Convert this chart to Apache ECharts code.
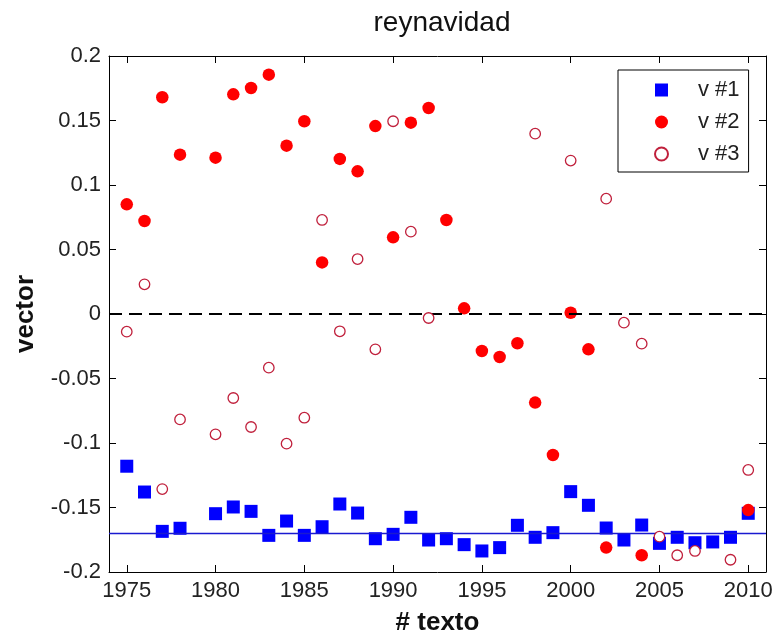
<!DOCTYPE html>
<html>
<head>
<meta charset="utf-8">
<script src="https://cdn.jsdelivr.net/npm/echarts@6/dist/echarts.min.js"></script>
<style>
html,body{margin:0;padding:0;background:#fff;}
#chart{width:775px;height:634px;}
</style>
</head>
<body>
<div id="chart"></div>
<script>
// ---- data ----
var titleText = 'reynavidad';
var xLabelText = '# texto';
var yLabelText = 'vector';
var seriesNames = ['v #1', 'v #2', 'v #3'];

var xTicks = [1975, 1980, 1985, 1990, 1995, 2000, 2005, 2010];
var yTicks = [-0.2, -0.15, -0.1, -0.05, 0, 0.05, 0.1, 0.15, 0.2];

var years1 = [1975, 1976, 1977, 1978, 1980, 1981, 1982, 1983, 1984, 1985, 1986, 1987, 1988, 1989, 1990, 1991, 1992, 1993, 1994, 1995, 1996, 1997, 1998, 1999, 2000, 2001, 2002, 2003, 2004, 2005, 2006, 2007, 2008, 2009, 2010];
var values1 = [-0.118, -0.138, -0.1685, -0.1661, -0.1548, -0.1496, -0.153, -0.1716, -0.1605, -0.1716, -0.1649, -0.1473, -0.1543, -0.1742, -0.1708, -0.1576, -0.1752, -0.1742, -0.1788, -0.1837, -0.1811, -0.1638, -0.1731, -0.1695, -0.1377, -0.1483, -0.1659, -0.1752, -0.1636, -0.1778, -0.1731, -0.1773, -0.1767, -0.1731, -0.1545];

var years2 = [1975, 1976, 1977, 1978, 1980, 1981, 1982, 1983, 1984, 1985, 1986, 1987, 1988, 1989, 1990, 1991, 1992, 1993, 1994, 1995, 1996, 1997, 1998, 1999, 2000, 2001, 2002, 2004, 2010];
var values2 = [0.085, 0.0721, 0.168, 0.1235, 0.1212, 0.1703, 0.1752, 0.1855, 0.1305, 0.1494, 0.040, 0.1202, 0.1106, 0.1457, 0.0594, 0.1483, 0.1597, 0.0729, 0.0044, -0.0287, -0.0333, -0.0227, -0.0687, -0.1093, 0.001, -0.0274, -0.1811, -0.187, -0.152];

var years3 = [1975, 1976, 1977, 1978, 1980, 1981, 1982, 1983, 1984, 1985, 1986, 1987, 1988, 1989, 1990, 1991, 1992, 1998, 2000, 2002, 2003, 2004, 2005, 2006, 2007, 2009, 2010];
var values3 = [-0.0137, 0.023, -0.1357, -0.0817, -0.0933, -0.0651, -0.0876, -0.0416, -0.1005, -0.0804, 0.0729, -0.0134, 0.0426, -0.0274, 0.1494, 0.0638, -0.0031, 0.1398, 0.1189, 0.0894, -0.0067, -0.023, -0.1726, -0.187, -0.1837, -0.1905, -0.1209];

var meanLine1 = -0.1667;
var zeroLine = 0;
var xMin = 1974, xMax = 2011;
var yMin = -0.2, yMax = 0.2, yStep = 0.05;

function zip(xs, ys) { return xs.map(function (x, i) { return [x, ys[i]]; }); }

var FONT = '"Liberation Sans", Arial, Helvetica, sans-serif';
var TXT = '#222';
var SQUARE = 'path://M0,0L10,0L10,10L0,10Z';

var chart = echarts.init(document.getElementById('chart'), null, {renderer: 'canvas'});

function xAxisDef(pos, showLabels) {
  return {
    type: 'value', position: pos, min: xMin, max: xMax,
    axisLine: {show: true, onZero: false, lineStyle: {color: '#000', width: 1}},
    axisTick: {show: true, inside: true, length: 7, customValues: xTicks, lineStyle: {color: '#000', width: 1}},
    axisLabel: {show: showLabels, customValues: xTicks, margin: 8, fontFamily: FONT, fontSize: 22, color: TXT,
      formatter: function (v) { return String(v); }},
    splitLine: {show: false},
    name: showLabels ? xLabelText : '',
    nameLocation: 'middle', nameGap: 38,
    nameTextStyle: {fontFamily: FONT, fontSize: 26, fontWeight: 'bold', color: '#111'}
  };
}
function yAxisDef(pos, showLabels) {
  return {
    type: 'value', position: pos, min: yMin, max: yMax, interval: yStep,
    axisLine: {show: true, onZero: false, lineStyle: {color: '#000', width: 1}},
    axisTick: {show: true, inside: true, length: 7, lineStyle: {color: '#000', width: 1}},
    axisLabel: {show: showLabels, margin: 8, fontFamily: FONT, fontSize: 22, color: TXT,
      formatter: function (v) { return String(parseFloat(v.toFixed(2))); }},
    splitLine: {show: false},
    name: showLabels ? yLabelText : '',
    nameLocation: 'middle', nameGap: 70,
    nameTextStyle: {fontFamily: FONT, fontSize: 26, fontWeight: 'bold', color: '#111'}
  };
}

var option = {
  backgroundColor: '#fff',
  animation: false,
  title: {
    text: titleText, left: 437, top: 4, textAlign: 'center',
    textStyle: {fontFamily: FONT, fontSize: 28, fontWeight: 'normal', color: '#111'}
  },
  grid: {left: 109, right: 9, top: 56, bottom: 62, containLabel: false, outerBoundsMode: 'none'},
  xAxis: [xAxisDef('bottom', true), xAxisDef('top', false)],
  yAxis: [yAxisDef('left', true), yAxisDef('right', false)],
  legend: {
    data: [
      {name: seriesNames[0], icon: SQUARE},
      {name: seriesNames[1]},
      {name: seriesNames[2]}
    ],
    orient: 'vertical',
    left: 618, top: 70,
    padding: [9, 9, 7, 36],
    itemGap: 10,
    itemWidth: 13, itemHeight: 13,
    symbolKeepAspect: true,
    backgroundColor: '#fff',
    borderColor: '#000', borderWidth: 1, borderRadius: 0,
    textStyle: {fontFamily: FONT, fontSize: 22, color: TXT, padding: [0, 0, 0, 25]}
  },
  series: [
    {
      name: 'lines', type: 'scatter', data: [], z: 1, silent: true,
      markLine: {
        silent: true, symbol: 'none', label: {show: false}, animation: false,
        data: [
          {yAxis: zeroLine, lineStyle: {color: '#000', width: 1.8, type: [13, 7]}},
          {yAxis: meanLine1, lineStyle: {color: '#1a1ad0', width: 1.3, type: 'solid'}}
        ]
      }
    },
    {
      name: seriesNames[0], type: 'scatter', z: 3,
      symbol: SQUARE, symbolSize: 13,
      itemStyle: {color: '#0000ff', opacity: 1},
      data: zip(years1, values1)
    },
    {
      name: seriesNames[1], type: 'scatter', z: 4,
      symbol: 'circle', symbolSize: 12.5,
      itemStyle: {color: '#ff0000', opacity: 1},
      data: zip(years2, values2)
    },
    {
      name: seriesNames[2], type: 'scatter', z: 5,
      symbol: 'circle', symbolSize: 10.5,
      itemStyle: {color: '#ffffff', borderColor: '#c0203c', borderWidth: 1.3, opacity: 1},
      data: zip(years3, values3)
    }
  ]
};
chart.setOption(option);
</script>
</body>
</html>
